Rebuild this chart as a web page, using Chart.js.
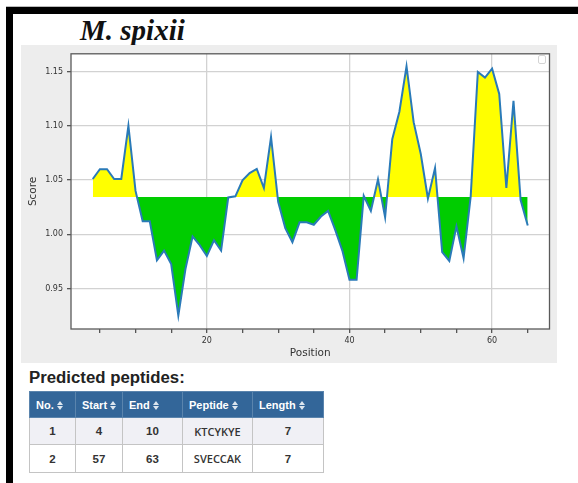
<!DOCTYPE html>
<html><head><meta charset="utf-8">
<script src="https://cdn.jsdelivr.net/npm/chart.js@4"></script>
<style>
html,body{margin:0;padding:0;background:#fff;width:578px;height:483px;overflow:hidden;}
body{position:relative;font-family:Arial,"Liberation Sans",sans-serif;}
#frameTop{position:absolute;left:6px;top:7px;width:572px;height:7px;background:#000;}
#frameLine{position:absolute;left:6px;top:6px;width:572px;height:1px;background:#bbb;}
#frameLeft{position:absolute;left:6px;top:7px;width:7px;height:476px;background:#000;}
#title{position:absolute;left:80px;top:16px;font:bold italic 29px/1 "Liberation Serif","DejaVu Serif",serif;color:#111;white-space:nowrap;}
#panel{position:absolute;left:21px;top:45px;width:536px;height:318px;background:#ededed;}
#legendBox{position:absolute;left:538px;top:55px;width:6px;height:7px;border:1px solid #d4d4d4;border-radius:2px;background:#fff;}
#subtitle{position:absolute;left:29px;top:370px;font:bold 16.8px/1 Arial,"Liberation Sans",sans-serif;color:#222;white-space:nowrap;}
#pep{position:absolute;left:29px;top:391px;border-collapse:collapse;font-family:Arial,"Liberation Sans",sans-serif;}
#pep th{background:#336699;color:#fff;font-weight:bold;font-size:11px;text-align:left;padding:0 0 0 6px;height:26px;border:1px solid #5a84ad;box-sizing:border-box;white-space:nowrap;}
#pep td{font-size:11.5px;font-weight:bold;color:#333;text-align:center;border:1px solid #c4c4c4;padding:0;box-sizing:border-box;}
#pep td.seq{font-family:"Open Sans",Arial,sans-serif;font-weight:600;font-size:11px;}
#pep tr.odd td{background:#f0f0f5;}
#pep tr.even td{background:#fff;}
.sort{display:inline-block;position:relative;width:7px;height:9px;margin-left:3px;vertical-align:-1px;}
.sort:before,.sort:after{content:"";position:absolute;left:0;border-left:3.5px solid transparent;border-right:3.5px solid transparent;}
.sort:before{top:0;border-bottom:4px solid #dde6ef;}
.sort:after{bottom:0;border-top:4px solid #dde6ef;}
</style></head>
<body>
<div id="frameLine"></div>
<div id="frameTop"></div>
<div id="frameLeft"></div>
<div id="title">M. spixii</div>
<div id="panel"><canvas id="c" width="536" height="318"></canvas></div>
<div id="legendBox"></div>
<div id="subtitle">Predicted peptides:</div>
<table id="pep"></table>
<script>
// ---- data ----
const startPosition = 4;
const scores = [
  1.051, 1.060, 1.060, 1.051, 1.051, 1.100, 1.040, 1.012, 1.012, 0.976,
  0.985, 0.9725, 0.925, 0.968, 0.998, 0.990, 0.980, 0.9945, 0.985, 1.034,
  1.035, 1.0497, 1.0564, 1.0603, 1.0427, 1.0897, 1.030, 1.0057, 0.9927, 1.011,
  1.011, 1.0088, 1.0164, 1.0215, 1.004, 0.985, 0.958, 0.958, 1.0355, 1.0215,
  1.0506, 1.0157, 1.0876, 1.113, 1.1548, 1.1034, 1.074, 1.033, 1.061, 0.9836,
  0.9755, 1.0073, 0.978, 1.035, 1.1497, 1.1445, 1.1527, 1.1294, 1.0427, 1.123,
  1.0315, 1.0082
];
const threshold = 1.0345;
const yTicks = [0.95, 1.00, 1.05, 1.10, 1.15];
const xTicks = [5, 10, 15, 20, 25, 30, 35, 40, 45, 50, 55, 60, 65];
const xLabeled = [20, 40, 60];

const colNames = ['No.', 'Start', 'End', 'Peptide', 'Length'];
const colWidths = [46, 47, 60, 70, 71];
const pepNo = [1, 2];
const pepStart = [4, 57];
const pepEnd = [10, 63];
const pepSeq = ['KTCYKYE', 'SVECCAK'];
const pepLen = [7, 7];

// ---- table ----
const tbl = document.getElementById('pep');
let html = '<tr>' + colNames.map((n, i) => `<th style="width:${colWidths[i]}px">${n}<span class="sort"></span></th>`).join('') + '</tr>';
const rowH = [27, 28];
pepNo.forEach((n, r) => {
  html += `<tr class="${r % 2 === 0 ? 'odd' : 'even'}">` +
    [pepNo[r], pepStart[r], pepEnd[r], pepSeq[r], pepLen[r]].map((v, ci) => `<td${ci === 3 ? ' class="seq"' : ''} style="height:${rowH[r]}px">${v}</td>`).join('') + '</tr>';
});
tbl.innerHTML = html;

// ---- chart ----
const points = scores.map((s, i) => ({x: startPosition + i, y: s}));
const frame = {
  id: 'frame',
  beforeDraw(chart) {
    const {ctx, chartArea: a} = chart;
    ctx.save();
    ctx.fillStyle = '#ededed';
    ctx.fillRect(0, 0, chart.width, chart.height);
    ctx.fillStyle = '#ffffff';
    ctx.fillRect(a.left, a.top, a.right - a.left, a.bottom - a.top);
    ctx.restore();
  },
  afterDraw(chart) {
    const {ctx, chartArea: a} = chart;
    ctx.save();
    ctx.strokeStyle = '#5a5a5a';
    ctx.lineWidth = 1.3;
    ctx.strokeRect(a.left, a.top, a.right - a.left, a.bottom - a.top);
    ctx.restore();
  }
};
const tickFont = {family: 'DejaVu Sans', size: 8};
new Chart(document.getElementById('c'), {
  type: 'line',
  data: {datasets: [{
    data: points,
    borderColor: '#2a7ab8',
    borderWidth: 2,
    pointRadius: 0,
    tension: 0,
    fill: {target: {value: threshold}, above: '#ffff00', below: '#00cc00'}
  }]},
  options: {
    responsive: false, animation: false, devicePixelRatio: 1,
    layout: {padding: {left: 0, top: 5, right: 7.5, bottom: 0}},
    plugins: {legend: {display: false}, tooltip: {enabled: false}},
    scales: {
      x: {
        type: 'linear', min: 0.95, max: 68.05,
        afterBuildTicks: s => { s.ticks = xTicks.map(v => ({value: v})); },
        ticks: {autoSkip: false, maxRotation: 0, padding: 3, color: '#333', font: tickFont,
          callback: v => xLabeled.includes(v) ? String(v) : ''},
        grid: {color: c => (c.tick && xLabeled.includes(c.tick.value)) ? '#d2d2d2' : 'rgba(0,0,0,0)',
          lineWidth: 1.3, tickColor: '#555', tickLength: 4},
        border: {display: false},
        title: {display: true, text: 'Position', color: '#333', font: {family: 'DejaVu Sans', size: 10.5}, padding: {top: 0, bottom: 3}},
        afterFit: s => { s.height = 34; }
      },
      y: {
        min: 0.9127, max: 1.1664,
        afterBuildTicks: s => { s.ticks = yTicks.map(v => ({value: v})); },
        ticks: {autoSkip: false, padding: 4, color: '#333', font: tickFont, callback: v => v.toFixed(2)},
        grid: {color: '#d2d2d2', lineWidth: 1.3, tickColor: '#555', tickLength: 4},
        border: {display: false},
        title: {display: true, text: 'Score', color: '#333', font: {family: 'DejaVu Sans', size: 10.5}, padding: {top: 6, bottom: 0}},
        afterFit: s => { s.width = 50; }
      }
    }
  },
  plugins: [frame]
});
</script>
</body></html>
